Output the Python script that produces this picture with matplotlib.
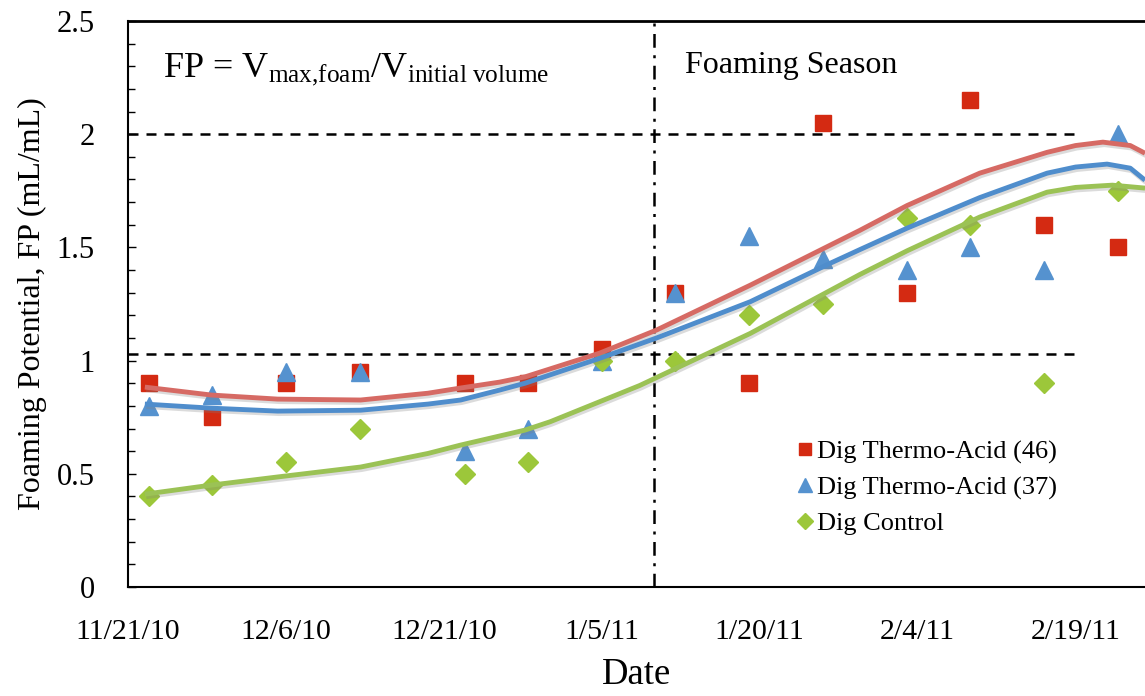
import numpy as np
import pandas as pd
import matplotlib
matplotlib.use("Agg")
import matplotlib.pyplot as plt
import matplotlib.patheffects as pe
from matplotlib.ticker import MultipleLocator, FormatStrFormatter

# ---- data ----
sample_dates = ['11/23/10', '11/29/10', '12/6/10', '12/13/10', '12/23/10', '12/29/10', '1/5/11',
                '1/12/11', '1/19/11', '1/26/11', '2/3/11', '2/9/11', '2/16/11', '2/23/11']
fp_thermo46 = [0.90, 0.75, 0.90, 0.95, 0.90, 0.90, 1.05, 1.30, 0.90, 2.05, 1.30, 2.15, 1.60, 1.50]
fp_thermo37 = [0.80, 0.85, 0.95, 0.95, 0.60, 0.70, 1.00, 1.30, 1.55, 1.45, 1.40, 1.50, 1.40, 2.00]
fp_control = [0.40, 0.45, 0.55, 0.70, 0.50, 0.55, 1.00, 1.00, 1.20, 1.25, 1.63, 1.60, 0.90, 1.75]

# trend curves as drawn in the figure (days after 11/21/10, FP)
trend46_days = [1.6, 7.9, 14.2, 22.1, 28.5, 31.6, 35.3, 37.7, 44.8, 50.2, 59.1, 66.7, 69.5,
                74.0, 80.9, 87.3, 90.0, 92.6, 95.2, 96.6]
trend46_fp = [0.883, 0.848, 0.830, 0.826, 0.856, 0.879, 0.905, 0.928, 1.033, 1.135, 1.333,
              1.510, 1.575, 1.685, 1.828, 1.920, 1.950, 1.965, 1.950, 1.916]
trend37_days = [1.6, 7.9, 14.2, 22.1, 28.5, 31.6, 35.3, 37.7, 44.8, 50.2, 59.1, 66.7, 69.5,
                74.0, 80.9, 87.3, 90.0, 93.0, 95.2, 96.6]
trend37_fp = [0.808, 0.790, 0.777, 0.781, 0.808, 0.826, 0.870, 0.900, 1.010, 1.100, 1.260,
              1.430, 1.490, 1.585, 1.720, 1.828, 1.855, 1.868, 1.850, 1.797]
trendctl_days = [1.6, 7.9, 14.2, 22.1, 28.5, 31.6, 37.7, 40.1, 48.6, 59.1, 66.7, 69.5,
                 74.0, 80.9, 87.3, 90.0, 93.5, 96.6]
trendctl_fp = [0.410, 0.450, 0.486, 0.530, 0.590, 0.627, 0.693, 0.730, 0.890, 1.120, 1.310,
               1.380, 1.485, 1.634, 1.744, 1.765, 1.775, 1.762]

tick_labels = ['11/21/10', '12/6/10', '12/21/10', '1/5/11', '1/20/11', '2/4/11', '2/19/11']
axis_start, axis_end = '11/21/10', '2/26/11'
season_start = '1/10/11'
threshold_levels = [2.0, 1.03]
threshold_end = '2/19/11'

plt.rcParams['font.family'] = ['Liberation Serif', 'DejaVu Serif']
plt.rcParams['mathtext.fontset'] = 'custom'
plt.rcParams['mathtext.rm'] = 'Liberation Serif'
plt.rcParams['mathtext.it'] = 'Liberation Serif:italic'

to_dt = lambda s: pd.to_datetime(s, format='%m/%d/%y')
t0 = to_dt(axis_start)
days = lambda s: (to_dt(s) - t0) / pd.Timedelta(days=1)

x = np.array([days(d) for d in sample_dates])

fig = plt.figure(figsize=(11.45, 6.96), dpi=100)
ax = fig.add_axes([0.1118, 0.1566, 0.8882, 0.8132])

series = [
    ('Dig Thermo-Acid (46)', fp_thermo46, trend46_days, trend46_fp, 's', '#d42a12', '#d66a64', 11.5),
    ('Dig Thermo-Acid (37)', fp_thermo37, trend37_days, trend37_fp, '^', '#5592cf', '#4f8dcc', 12.5),
    ('Dig Control', fp_control, trendctl_days, trendctl_fp, 'D', '#9cc73a', '#9bc255', 10.5),
]

shadow = [pe.SimpleLineShadow(offset=(1, -1.8), shadow_color='gray', alpha=0.28), pe.Normal()]
for label, y, td, tfp, mk, mc, lc, ms in series:
    ax.plot(x, y, linestyle='none', marker=mk, markersize=ms, color=mc,
            markeredgecolor=mc, label=label, zorder=3)
    ax.plot(td, tfp, color=lc, linewidth=3.5, path_effects=shadow, zorder=4,
            solid_joinstyle='round', solid_capstyle='butt')

for lvl in threshold_levels:
    ax.plot([0, days(threshold_end)], [lvl, lvl], color='black', linewidth=1.8,
            dashes=(4, 3.2), zorder=2)
ax.axvline(days(season_start), color='black', linewidth=1.8,
           dashes=(5.5, 3, 1.2, 3), zorder=2)

ax.text(0.034, 0.915, r'FP = V$_{\mathrm{max{,}foam}}$/V$_{\mathrm{initial\ volume}}$',
        transform=ax.transAxes, fontsize=26, va='center', ha='left')
ax.text(0.548, 0.922, 'Foaming Season', transform=ax.transAxes,
        fontsize=23, va='center', ha='left')

ax.set_xlim(0, days(axis_end) - 0.4)
ax.set_ylim(0, 2.5)
ax.set_xticks([days(t) for t in tick_labels])
ax.set_xticklabels(tick_labels)
ax.yaxis.set_major_locator(MultipleLocator(0.5))
ax.yaxis.set_minor_locator(MultipleLocator(0.1))
ax.yaxis.set_major_formatter(FormatStrFormatter('%g'))
ax.tick_params(axis='x', length=0, labelsize=21.5, pad=23)
ax.tick_params(axis='y', which='both', direction='in', labelsize=22, pad=24)
ax.tick_params(axis='y', which='major', length=6, width=1)
ax.tick_params(axis='y', which='minor', length=5, width=1)
ax.set_xlabel('Date', fontsize=26.5, labelpad=9)
ax.set_ylabel('Foaming Potential, FP (mL/mL)', fontsize=23, labelpad=7)

for s in ['left', 'bottom']:
    ax.spines[s].set_linewidth(1.5)
ax.spines['top'].set_linewidth(2)
ax.spines['right'].set_visible(False)

ax.legend(loc='upper left', bbox_to_anchor=(0.658, 0.26), frameon=False,
          fontsize=19, handlelength=0.6, handletextpad=0.15, labelspacing=0.45,
          borderpad=0, borderaxespad=0, markerscale=0.8)

fig.savefig('out.png', dpi=100)
